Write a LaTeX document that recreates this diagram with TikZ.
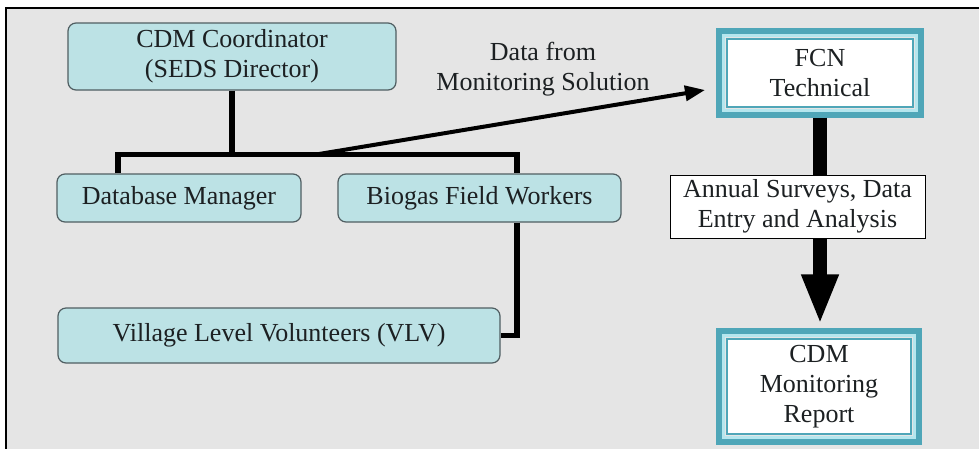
\documentclass[tikz,border=0pt]{standalone}
\usepackage{fontspec}
\setmainfont{Liberation Serif}
\usepackage{tikz}
\usetikzlibrary{arrows.meta}
\usetikzlibrary{positioning}
\definecolor{bg}{RGB}{229, 229, 229}
\definecolor{cy}{RGB}{188, 226, 229}
\definecolor{edge}{RGB}{80, 94, 98}
\definecolor{teal}{RGB}{79, 166, 184}
\definecolor{pale}{RGB}{181, 230, 238}
\definecolor{ink}{RGB}{28, 32, 34}

\begin{document}
\begin{tikzpicture}[
  every node/.style={inner sep=0pt, align=center, text=ink, font=\rmfamily\fontsize{26}{30}\selectfont},
  orgbox/.style={rectangle, rounded corners=8pt, fill=cy, draw=edge, line width=1.2pt},
  fcnbox/.style={rectangle, fill=white, draw=teal, line width=1.2pt},
  plainbox/.style={rectangle, fill=white, draw=black, line width=1pt},
  tree/.style={line width=5.5pt, color=black},
  thick arrow/.style={line width=4pt, color=black, -{Triangle[width=15pt, length=20pt]}},
  stem/.style={line width=14pt, color=black}]
\clip (0pt, 0pt) rectangle (979pt, -448pt);
\fill [white] (0pt, 0pt) rectangle (979pt, -448pt);
\draw [fill=bg, line width=2.5pt, draw=black] (6pt, -8pt) rectangle (990pt, -460pt);
% org tree
\node (coord) [orgbox, minimum width=328pt, minimum height=67pt] at (232pt, -56.5pt) {CDM Coordinator\\(SEDS Director)};
\node (db) [orgbox, minimum width=244pt, minimum height=48pt] at (179pt, -198pt) {Database Manager};
\node (bio) [orgbox, minimum width=283pt, minimum height=48pt] at (479.5pt, -198pt) {Biogas Field Workers};
\node (vlv) [orgbox, minimum width=442pt, minimum height=55pt] at (279pt, -335.5pt) {Village Level Volunteers (VLV)};
% right column
\node (fcn) [fcnbox, minimum width=186pt, minimum height=68pt] at (820pt, -73pt) {FCN\\Technical};
\node (annual) [plainbox, minimum width=255pt, minimum height=63pt] at (797.5pt, -206.5pt) {Annual Surveys, Data\\Entry and Analysis};
\node (report) [fcnbox, minimum width=184pt, minimum height=95pt] at (819pt, -386.5pt) {CDM\\Monitoring\\Report};
\foreach \n in {fcn, report} {
  \draw [pale, line width=3pt] ([shift={(-2.5pt, -2.5pt)}]\n.south west) rectangle ([shift={(2.5pt, 2.5pt)}]\n.north east);
  \draw [teal, line width=6pt] ([shift={(-7pt, -7pt)}]\n.south west) rectangle ([shift={(7pt, 7pt)}]\n.north east);
}
\coordinate (bar) at (0pt, -155pt);
\coordinate (split) at (313pt, -155pt);
\coordinate (datatip) at (705pt, -90pt);
\node (datalbl) at (543pt, -69pt) {Data from\\Monitoring Solution};
\draw [tree] (coord.south) -- (coord.south |- bar);
\draw [tree] ([xshift=-61pt]db.north) -- ++(0pt, 19pt) -| ([xshift=37.5pt]bio.north);
\draw [tree] ([xshift=37.5pt]bio.south) |- (vlv.east);
\draw [thick arrow] (split) -- (datatip);
\draw [stem] ([yshift=-10pt]fcn.south) -- (annual.north -| fcn.south);
\draw [stem, -{Triangle[width=34pt, length=50pt]}] (annual.south -| fcn.south) -- ([yshift=14pt]report.north -| fcn.south);
\end{tikzpicture}
\end{document}
